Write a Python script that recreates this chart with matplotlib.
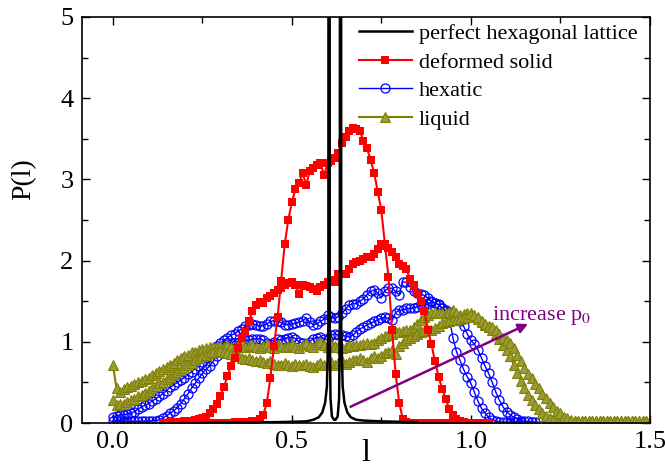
import numpy as np
import matplotlib
matplotlib.use('Agg')
import matplotlib.pyplot as plt
from matplotlib.ticker import MultipleLocator

plt.rcParams['font.family'] = ['Liberation Serif', 'DejaVu Serif']
plt.rcParams['mathtext.fontset'] = 'stix'

# perfect hexagonal lattice (black line, peaks run off the top)
l_hex = [0.25, 0.35, 0.45, 0.50, 0.54, 0.56, 0.575, 0.585, 0.593, 0.598, 0.602,
         0.604, 0.606, 0.608, 0.612, 0.618, 0.622, 0.628, 0.632, 0.634, 0.636,
         0.638, 0.642, 0.647, 0.655, 0.665, 0.68, 0.70, 0.75, 0.80, 0.85]
p_hex = [0.0, 0.005, 0.01, 0.015, 0.02, 0.04, 0.07, 0.13, 0.25, 0.45, 1.2,
         30, 1.2, 0.3, 0.08, 0.04, 0.04, 0.08, 0.3, 1.2, 30,
         1.2, 0.45, 0.25, 0.13, 0.07, 0.04, 0.03, 0.02, 0.015, 0.01]

# deformed solid, two states (bins of 0.01)
solid1_start = 0.14
solid1 = [0, 0, 0, 0, 0, 0, 0, 0, 0, 0,
          0, 0, 0, 0, 0, 0, 0, 0, 0, 0,
          0.01, 0.01, 0.01, 0.01,
          0.01, 0.02, 0.03, 0.05, 0.1, 0.25, 0.55, 0.95, 1.3, 1.75,
          2.2, 2.5, 2.72, 2.88, 2.95, 3.08, 2.93, 3.1, 3.14, 3.18,
          3.2, 3.05, 3.2, 3.22, 3.26, 3.32, 3.45, 3.52, 3.59, 3.63,
          3.62, 3.6, 3.47, 3.38, 3.24, 3.08, 2.85, 2.62, 2.2, 1.8,
          1.15, 0.6, 0.25, 0.05, 0.01,
          0, 0, 0, 0, 0, 0, 0, 0, 0, 0,
          0, 0, 0, 0, 0, 0, 0, 0, 0, 0, 0, 0, 0]

solid2_start = 0.14
solid2 = [0.0, 0.0, 0.01, 0.01, 0.01, 0.01, 0.02, 0.02, 0.03, 0.04,
          0.05, 0.06, 0.08, 0.12, 0.17, 0.24, 0.33, 0.44, 0.58, 0.7,
          0.8, 0.92, 1.05, 1.12, 1.25, 1.38, 1.45, 1.49, 1.48, 1.54,
          1.56, 1.6, 1.64, 1.66, 1.7, 1.72, 1.73, 1.7, 1.59, 1.7,
          1.69, 1.68, 1.65, 1.63, 1.68, 1.7, 1.74, 1.76, 1.74, 1.84,
          1.83, 1.84, 1.9, 1.96, 1.98, 2.0, 2.02, 2.05, 2.04, 2.08,
          2.14, 2.2, 2.18, 2.16, 2.1, 2.04, 1.96, 1.93, 1.9, 1.77,
          1.7, 1.6, 1.5, 1.38, 1.15, 0.97, 0.76, 0.57, 0.42, 0.3,
          0.17, 0.1, 0.05, 0.02, 0.01, 0, 0, 0, 0, 0,
          0, 0]

# hexatic, two states
hex1 = [0.08, 0.09, 0.1, 0.1, 0.11, 0.12, 0.14, 0.17, 0.2, 0.22,
        0.24, 0.27, 0.3, 0.33, 0.36, 0.4, 0.44, 0.47, 0.5, 0.53,
        0.56, 0.6, 0.63, 0.67, 0.7, 0.75, 0.8, 0.85, 0.9, 0.95,
        0.98, 1.02, 1.05, 1.08, 1.1, 1.13, 1.16, 1.19, 1.21, 1.22,
        1.21, 1.19, 1.2, 1.22, 1.25, 1.26, 1.25, 1.24, 1.21, 1.21,
        1.22, 1.23, 1.24, 1.26, 1.29, 1.24, 1.21, 1.22, 1.25, 1.28,
        1.33, 1.3, 1.29, 1.31, 1.35, 1.4, 1.45, 1.47, 1.47, 1.5,
        1.53, 1.58, 1.62, 1.64, 1.6, 1.54, 1.63, 1.66, 1.66, 1.62,
        1.58, 1.74, 1.73, 1.68, 1.62, 1.6, 1.59, 1.57, 1.54, 1.5,
        1.48, 1.45, 1.42, 1.38, 1.3, 1.05, 0.88, 0.77, 0.66, 0.57,
        0.49, 0.38, 0.27, 0.18, 0.12, 0.07, 0.04, 0.02, 0.01, 0.01,
        0.01, 0.01, 0.01, 0.01, 0.01]

hex2 = [0.02, 0.02, 0.02, 0.02, 0.02, 0.02, 0.02, 0.02, 0.02, 0.02,
        0.02, 0.03, 0.03, 0.04, 0.06, 0.09, 0.12, 0.15, 0.19, 0.24,
        0.3, 0.36, 0.43, 0.49, 0.55, 0.61, 0.66, 0.7, 0.76, 0.83,
        0.88, 0.93, 0.97, 0.98, 0.96, 0.99, 1.0, 1.02, 1.02, 1.03,
        1.04, 1.04, 1.02, 0.98, 0.97, 1.0, 1.03, 1.02, 1.04, 1.05,
        1.06, 1.04, 1.0, 0.98, 0.97, 1.0, 1.04, 1.05, 1.06, 1.04,
        1.02, 1.08, 1.1, 1.08, 1.08, 1.07, 1.06, 1.08, 1.12, 1.16,
        1.18, 1.21, 1.23, 1.25, 1.27, 1.29, 1.3, 1.29, 1.27, 1.36,
        1.39, 1.39, 1.41, 1.41, 1.42, 1.43, 1.45, 1.45, 1.47, 1.49,
        1.48, 1.46, 1.41, 1.39, 1.37, 1.33, 1.3, 1.25, 1.19, 1.1,
        1.02, 0.97, 0.9, 0.8, 0.7, 0.61, 0.5, 0.38, 0.28, 0.2,
        0.14, 0.1, 0.07, 0.05, 0.03, 0.02, 0.02, 0.01, 0.01, 0.01]

# liquid, two states
liq1 = [0.71, 0.43, 0.38, 0.42, 0.44, 0.46, 0.48, 0.5, 0.52, 0.54,
        0.56, 0.59, 0.62, 0.64, 0.66, 0.69, 0.72, 0.74, 0.77, 0.8,
        0.82, 0.84, 0.87, 0.88, 0.9, 0.91, 0.92, 0.94, 0.93, 0.94,
        0.95, 0.93, 0.96, 0.94, 0.92, 0.95, 0.97, 0.93, 0.95, 0.96,
        0.94, 0.92, 0.95, 0.97, 0.94, 0.92, 0.96, 0.95, 0.93, 0.95,
        0.97, 0.94, 0.92, 0.96, 0.98, 0.95, 0.93, 0.97, 1.0, 0.96,
        0.94, 0.97, 0.95, 0.94, 0.92, 0.94, 0.96, 0.95, 0.96, 0.96,
        0.97, 0.98, 0.97, 0.98, 1.02, 1.05, 1.07, 1.08, 1.1, 1.12,
        1.12, 1.13, 1.14, 1.15, 1.18, 1.22, 1.27, 1.3, 1.33, 1.36,
        1.37, 1.36, 1.35, 1.35, 1.37, 1.39, 1.36, 1.33, 1.34, 1.36,
        1.35, 1.32, 1.28, 1.24, 1.21, 1.18, 1.14, 1.1, 1.04, 0.96,
        0.9, 0.82, 0.72, 0.62, 0.52, 0.43, 0.35, 0.28, 0.22, 0.17,
        0.12, 0.09, 0.06, 0.04, 0.03, 0.02, 0.02, 0.02, 0.02, 0.02,
        0.02, 0.02, 0.02, 0.02, 0.02, 0.02, 0.02, 0.02, 0.02, 0.02,
        0.02, 0.02, 0.02, 0.02, 0.02, 0.02, 0.02, 0.02, 0.02, 0.02, 0.02]

liq2 = [0.28, 0.22, 0.23, 0.24, 0.26, 0.28, 0.3, 0.33, 0.35, 0.37,
        0.4, 0.43, 0.46, 0.49, 0.51, 0.54, 0.57, 0.6, 0.63, 0.65,
        0.68, 0.71, 0.74, 0.77, 0.8, 0.82, 0.84, 0.86, 0.87, 0.88,
        0.89, 0.88, 0.86, 0.85, 0.83, 0.82, 0.8, 0.79, 0.8, 0.78,
        0.76, 0.78, 0.75, 0.74, 0.76, 0.73, 0.72, 0.71, 0.74, 0.72,
        0.7, 0.73, 0.71, 0.72, 0.73, 0.7, 0.69, 0.72, 0.74, 0.71,
        0.73, 0.75, 0.72, 0.74, 0.76, 0.73, 0.75, 0.77, 0.78, 0.8,
        0.77, 0.75, 0.8, 0.82, 0.8, 0.83, 0.86, 0.88, 0.9, 0.85,
        0.95, 0.98, 1.02, 1.05, 1.07, 1.1, 1.12, 1.13, 1.14, 1.15,
        1.17, 1.2, 1.23, 1.24, 1.25, 1.27, 1.27, 1.28, 1.29, 1.3,
        1.34, 1.33, 1.3, 1.26, 1.22, 1.2, 1.18, 1.15, 1.1, 1.05,
        1.02, 0.98, 0.92, 0.84, 0.76, 0.68, 0.6, 0.55, 0.48, 0.43,
        0.36, 0.31, 0.25, 0.2, 0.15, 0.12, 0.08, 0.06, 0.04, 0.03,
        0.02, 0.02, 0.02, 0.02, 0.02, 0.02, 0.02, 0.02, 0.02, 0.02,
        0.02, 0.02, 0.02, 0.02, 0.02, 0.02, 0.02, 0.02, 0.02, 0.02, 0.02]

# arrow "increase p0" (data coordinates)
arrow_tail = (0.664, 0.2)
arrow_head = (1.16, 1.22)


def bins(start, vals):
    return np.round(start + 0.01 * np.arange(len(vals)), 2)


fig = plt.figure(figsize=(6.65, 4.7), dpi=100)
ax = fig.add_axes([0.123, 0.1, 0.854, 0.864])

red_kw = dict(color='red', marker='s', ms=5.5, mew=0, lw=1.5)
blue_kw = dict(color='blue', marker='o', ms=6.5, mfc='none', mew=0.9, lw=1.0)
olive_kw = dict(color='#808000', marker='^', ms=6.5, mfc='#9a9a3a', mec='#808000',
                mew=0.8, lw=1.5)

ax.plot(bins(0.0, hex1), hex1, **blue_kw)
ax.plot(bins(0.0, hex2), hex2, **blue_kw)
ax.plot(bins(0.0, liq1), liq1, **olive_kw)
ax.plot(bins(0.0, liq2), liq2, **olive_kw)
ax.plot(bins(solid1_start, solid1), solid1, **red_kw)
ax.plot(bins(solid2_start, solid2), solid2, **red_kw)
ax.plot(l_hex, p_hex, color='black', lw=1.8, zorder=5)

# legend proxies
h_black, = ax.plot([], [], color='black', lw=1.8)
h_red, = ax.plot([], [], **red_kw)
h_blue, = ax.plot([], [], **blue_kw)
h_olive, = ax.plot([], [], **olive_kw)
ax.legend([h_black, h_red, h_blue, h_olive],
          ['perfect hexagonal lattice', 'deformed solid', 'hexatic', 'liquid'],
          loc='upper right', bbox_to_anchor=(0.99, 1.0), frameon=False,
          fontsize=16, handlelength=2.4, handletextpad=0.3, labelspacing=0.36,
          borderaxespad=0.0, borderpad=0.3, numpoints=1)

ax.annotate('', xy=arrow_head, xytext=arrow_tail,
            arrowprops=dict(arrowstyle='-|>', color='#800080', lw=1.8,
                            mutation_scale=14, shrinkA=0, shrinkB=0))
ax.text(1.06, 1.27, r'increase p$_0$', color='#800080', fontsize=16)

ax.set_xlim(-0.087, 1.5)
ax.set_ylim(0, 5)
ax.xaxis.set_major_locator(MultipleLocator(0.5))
ax.xaxis.set_minor_locator(MultipleLocator(0.25))
ax.yaxis.set_major_locator(MultipleLocator(1))
ax.yaxis.set_minor_locator(MultipleLocator(0.5))
ax.set_xticks([0.0, 0.5, 1.0, 1.5])
ax.set_xticklabels(['0.0', '0.5', '1.0', '1.5'])
ax.tick_params(which='both', direction='in', top=True, right=True, labelsize=19)
ax.tick_params(which='major', length=6, width=1.0, pad=6)
ax.tick_params(which='minor', length=4, width=1.0)
for s in ax.spines.values():
    s.set_linewidth(1.2)

ax.set_xlabel('l', fontsize=23)
ax.xaxis.set_label_coords(0.5, -0.04)
ax.set_ylabel('P(l)', fontsize=20)
ax.yaxis.set_label_coords(-0.08, 0.6)

fig.savefig('out.png', dpi=100)
